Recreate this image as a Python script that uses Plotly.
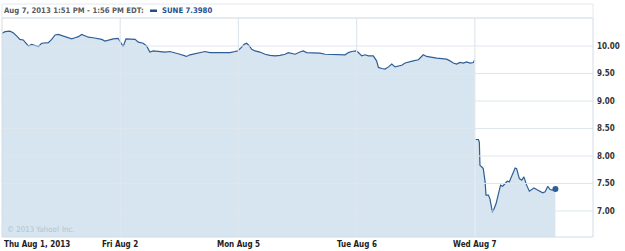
import plotly.graph_objects as go

# ---- data ----
day_labels = ["Thu Aug 1, 2013", "Fri Aug 2", "Mon Aug 5", "Tue Aug 6", "Wed Aug 7"]
minutes_per_day = 390

thu_min = [0, 10, 26, 37, 49, 59, 70, 81, 87, 98, 109, 120, 131, 142, 153, 164, 175, 186, 197, 208,
           219, 230, 241, 252, 263, 274, 285, 301, 318, 329, 340, 351, 367, 383]
thu_px = [10.23, 10.26, 10.27, 10.24, 10.18, 10.12, 10.11, 10.03, 10.00, 10.03, 10.01, 9.99, 10.05,
          10.06, 10.06, 10.12, 10.20, 10.21, 10.19, 10.16, 10.15, 10.13, 10.15, 10.17, 10.21, 10.18,
          10.16, 10.15, 10.13, 10.12, 10.09, 10.11, 10.13, 10.14]

fri_min = [5, 10, 19, 32, 49, 60, 76, 87, 98, 109, 126, 131, 148, 164, 181, 197, 214, 219, 230, 247,
           263, 280, 296, 313, 329, 346, 362, 379, 388]
fri_px = [10.03, 9.99, 10.13, 10.12, 10.12, 10.07, 10.05, 10.00, 9.89, 9.91, 9.90, 9.90, 9.89, 9.90,
          9.88, 9.85, 9.82, 9.81, 9.84, 9.86, 9.87, 9.90, 9.88, 9.88, 9.87, 9.88, 9.88, 9.90, 9.91]

mon_min = [9, 19, 27, 35, 44, 55, 71, 88, 104, 121, 137, 154, 165, 176, 187, 203, 214, 225, 236, 253,
           269, 286, 302, 319, 335, 352, 363, 374, 388]
mon_px = [9.97, 10.03, 10.05, 10.01, 9.94, 9.91, 9.89, 9.85, 9.83, 9.82, 9.83, 9.85, 9.88, 9.87, 9.85,
          9.89, 9.91, 9.88, 9.88, 9.87, 9.87, 9.85, 9.85, 9.85, 9.84, 9.84, 9.88, 9.90, 9.91]

tue_min = [6, 17, 28, 39, 55, 66, 72, 83, 94, 105, 116, 127, 138, 149, 160, 171, 187, 204, 220, 231,
           248, 264, 281, 297, 308, 319, 330, 341, 352, 363, 374, 385, 390]
tue_px = [9.88, 9.82, 9.84, 9.82, 9.82, 9.73, 9.61, 9.59, 9.58, 9.62, 9.67, 9.62, 9.64, 9.65, 9.69,
          9.71, 9.73, 9.75, 9.84, 9.81, 9.79, 9.78, 9.77, 9.76, 9.73, 9.69, 9.67, 9.70, 9.69, 9.71,
          9.69, 9.70, 9.75]

wed_min = [2, 12, 15, 17, 23, 28, 34, 37, 45, 50, 58, 63, 70, 78, 85, 92, 100, 107, 114, 122, 127, 133,
           138, 147, 155, 162, 171, 180, 188, 195, 204, 215, 224, 232, 241, 248, 257, 266]
wed_px = [8.30, 8.30, 8.25, 7.83, 7.80, 7.77, 7.53, 7.29, 7.29, 7.22, 6.98, 7.03, 7.13, 7.29, 7.47, 7.45,
          7.50, 7.54, 7.53, 7.64, 7.68, 7.78, 7.77, 7.59, 7.56, 7.62, 7.47, 7.36, 7.39, 7.42, 7.39,
          7.35, 7.33, 7.35, 7.45, 7.39, 7.38, 7.398]

y_ticks = [7.0, 7.5, 8.0, 8.5, 9.0, 9.5, 10.0]
header_text = "Aug 7, 2013 1:51 PM - 1:56 PM EDT:"
series_name = "SUNE"
last_price = 7.3980

# ---- build series (Thu..Tue continuous, Wed separate after the gap) ----
days = [(thu_min, thu_px), (fri_min, fri_px), (mon_min, mon_px), (tue_min, tue_px)]
xs, ys = [], []
for i, (mins, pxs) in enumerate(days):
    for m, p in zip(mins, pxs):
        xs.append(i + m / minutes_per_day)
        ys.append(p)
wed_idx = 4
wx = [wed_idx + m / minutes_per_day for m in wed_min]
wy = list(wed_px)

LINE = "#2f5e95"
FILL = "#d6e5f0"
GRID = "#dfe7ee"
BORDER = "#d3dce4"
FONT = "DejaVu Sans Condensed, DejaVu Sans, sans-serif"

fig = go.Figure()
for sx, sy in [(xs, ys), (wx, wy)]:
    fig.add_trace(go.Scatter(
        x=sx, y=sy, mode="lines", fill="tozeroy", fillcolor=FILL,
        line=dict(color=LINE, width=1.2), hoverinfo="skip", showlegend=False))
fig.add_trace(go.Scatter(
    x=[wx[-1]], y=[wy[-1]], mode="markers",
    marker=dict(color=LINE, size=6), hoverinfo="skip", showlegend=False))

ymin, ymax = 6.527, 10.509
nd = len(day_labels)

shapes = []
for t in y_ticks:
    shapes.append(dict(type="line", xref="paper", yref="y", x0=0, x1=1, y0=t, y1=t,
                       line=dict(color=GRID, width=1), layer="above"))
for d in range(1, nd):
    shapes.append(dict(type="line", xref="x", yref="paper", x0=d, x1=d, y0=0, y1=1,
                       line=dict(color=GRID, width=1.2), layer="above"))
shapes.append(dict(type="rect", xref="paper", yref="paper", x0=0, x1=1, y0=0, y1=1,
                   line=dict(color=BORDER, width=1), layer="above"))
shapes.append(dict(type="rect", xref="paper", yref="paper", x0=0, x1=1, y0=1, y1=1 + 14 / 219,
                   line=dict(color="#e4e9ee", width=1), layer="above"))
shapes.append(dict(type="rect", xref="paper", yref="paper",
                   x0=148 / 591, x1=155 / 591, y0=1 + 6 / 219, y1=1 + 8.5 / 219,
                   fillcolor="#1f4f8f", line=dict(width=0)))

annotations = []
for i, lab in enumerate(day_labels):
    annotations.append(dict(
        x=i, y=0, xref="x", yref="paper", text="<b>" + lab + "</b>", showarrow=False,
        xanchor="left" if i == 0 else "center", yanchor="top", yshift=-1,
        font=dict(family=FONT, size=8, color="#222")))
annotations.append(dict(
    x=0, y=1 + 7 / 219, xref="paper", yref="paper", text="<b>" + header_text + "</b>",
    showarrow=False, xanchor="left", yanchor="middle", xshift=0,
    font=dict(family=FONT, size=7.7, color="#5a5a5a")))
annotations.append(dict(
    x=158 / 591, y=1 + 7 / 219, xref="paper", yref="paper",
    text="<b>%s %.4f</b>" % (series_name, last_price),
    showarrow=False, xanchor="left", yanchor="middle",
    font=dict(family=FONT, size=7.7, color="#1f4f8f")))
annotations.append(dict(
    x=0, y=0, xref="paper", yref="paper", text="© 2013 Yahoo! Inc.",
    showarrow=False, xanchor="left", yanchor="bottom", xshift=3, yshift=1,
    font=dict(family=FONT, size=7.8, color="#b4c2ce")))

fig.update_layout(
    width=625, height=251,
    margin=dict(l=2, r=32, t=18, b=14),
    paper_bgcolor="white", plot_bgcolor="white",
    xaxis=dict(range=[0, nd], showgrid=False, zeroline=False, showticklabels=False,
               ticks="", fixedrange=True),
    yaxis=dict(range=[ymin, ymax], side="right", tickvals=y_ticks,
               ticktext=["<b>%.2f</b>" % v for v in y_ticks],
               showgrid=False, zeroline=False, ticks="", ticklabelstandoff=3,
               tickfont=dict(family=FONT, size=8, color="#333")),
    shapes=shapes, annotations=annotations, showlegend=False,
)

fig.write_html("out.html")
